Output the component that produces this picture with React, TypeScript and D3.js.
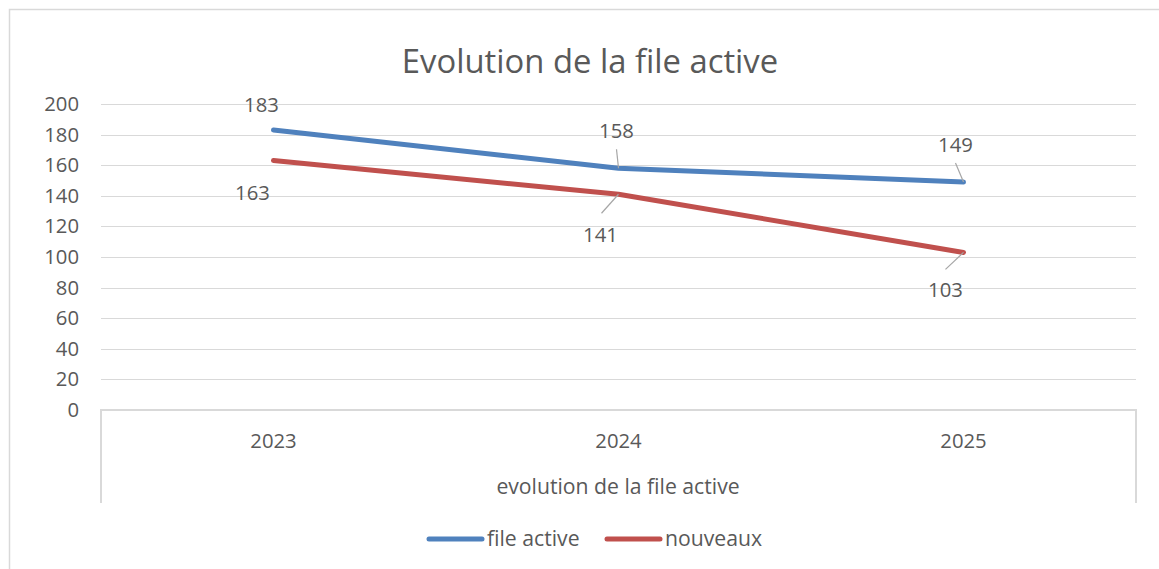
import React, { useEffect } from "react";
import * as d3 from "d3";

const categories = ["2023", "2024", "2025"];
const fileActive = [183, 158, 149];
const nouveaux = [163, 141, 103];
const yTicks = [0, 20, 40, 60, 80, 100, 120, 140, 160, 180, 200];
const seriesNames = ["file active", "nouveaux"];
const titleText = "Evolution de la file active";
const axisTitle = "evolution de la file active";

// label placement (offsets from the point: text center x, baseline y) and leader starts
const labelOffsets = [
  [[-12, -18], [-2, -30], [-8, -30]],
  [[-21, 39], [-18, 48], [-18, 45]],
];
const leaderStarts = [
  [null, [-2, -19], [-8, -19]],
  [null, [-17, 19], [-18, 17]],
];

const W = 1159;
const H = 569;
const FONT = "'Open Sans', 'DejaVu Sans', sans-serif";
const TEXT = "#595959";
const GRID = "#d9d9d9";
const colors = ["#4f81bd", "#c0504d"];

export default function App() {
  useEffect(() => {
    document.body.style.margin = "0";
  }, []);

  const x = d3.scaleBand<string>().domain(categories).range([101, 1136]);
  const cx = (c: string) => (x(c) as number) + x.bandwidth() / 2;
  const y = d3.scaleLinear().domain([0, 200]).range([410, 104]);
  const line = d3
    .line<number>()
    .x((_, i) => cx(categories[i]))
    .y((d) => y(d));
  const series = [fileActive, nouveaux];

  return (
    <svg width={W} height={H} style={{ display: "block" }} fontFamily={FONT}>
      <rect x={0} y={0} width={W} height={H} fill="#fff" />
      <rect x={9.5} y={9.5} width={W + 10} height={H + 10} fill="none" stroke={GRID} strokeWidth={1.5} />
      <text x={590} y={73} textAnchor="middle" fontSize={32.8} fill={TEXT}>
        {titleText}
      </text>
      {yTicks.map((t) => (
        <g key={t}>
          {t > 0 && <line x1={101} x2={1136} y1={Math.round(y(t)) + 0.5} y2={Math.round(y(t)) + 0.5} stroke={GRID} strokeWidth={1.2} />}
          <text x={79} y={y(t) + 7} textAnchor="end" fontSize={20.3} fill={TEXT}>
            {t}
          </text>
        </g>
      ))}
      {/* axis box */}
      <path
        d={`M101,503 V410 H1136 V503`}
        fill="none"
        stroke={GRID}
        strokeWidth={2}
      />
      {categories.map((c) => (
        <text key={c} x={cx(c)} y={448} textAnchor="middle" fontSize={20.3} fill={TEXT}>
          {c}
        </text>
      ))}
      <text x={618} y={494} textAnchor="middle" fontSize={21.2} fill={TEXT}>
        {axisTitle}
      </text>
      {series.map((s, si) => (
        <path
          key={si}
          d={line(s) || ""}
          fill="none"
          stroke={colors[si]}
          strokeWidth={5}
          strokeLinecap="round"
          strokeLinejoin="round"
        />
      ))}
      {series.map((s, si) =>
        s.map((v, i) => {
          const px = cx(categories[i]);
          const py = y(v);
          const off = labelOffsets[si][i];
          const ls = leaderStarts[si][i];
          return (
            <g key={`${si}-${i}`}>
              {ls && (
                <line x1={px + ls[0]} y1={py + ls[1]} x2={px} y2={py} stroke="#a6a6a6" strokeWidth={1.2} />
              )}
              <text x={px + off[0]} y={py + off[1]} textAnchor="middle" fontSize={20.3} fill={TEXT}>
                {v}
              </text>
            </g>
          );
        })
      )}
      {/* legend */}
      {seriesNames.map((n, i) => {
        const lx = i === 0 ? 429 : 607;
        return (
          <g key={n}>
            <line x1={lx} x2={lx + 53} y1={539} y2={539} stroke={colors[i]} strokeWidth={5} strokeLinecap="round" />
            <text x={lx + 58} y={546} fontSize={21.2} fill={TEXT}>
              {n}
            </text>
          </g>
        );
      })}
    </svg>
  );
}
